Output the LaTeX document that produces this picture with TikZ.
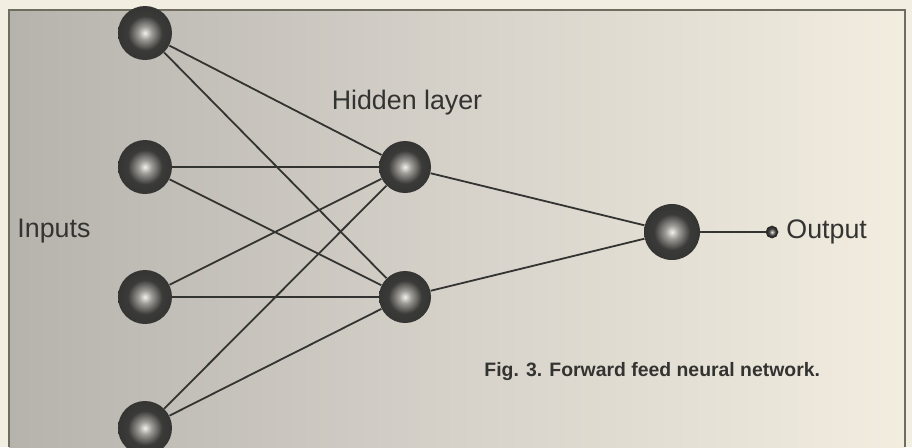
\documentclass[tikz,border=0pt]{standalone}
\usepackage{fontspec}
\setmainfont{Liberation Sans}
\usepackage{tikz}
\usetikzlibrary{arrows,shapes}
\definecolor{paper}{HTML}{F3EEE2}
\definecolor{paperleft}{HTML}{B6B3AD}
\definecolor{papermid}{HTML}{D6D2CA}
\definecolor{paperright}{HTML}{F2EDDF}
\definecolor{ink}{HTML}{333331}
\definecolor{rim}{HTML}{6E6D60}
\definecolor{ballhi}{HTML}{F2F0EA}
\definecolor{ballmid}{HTML}{9E9C97}
\definecolor{balldark}{HTML}{3A3A38}
\definecolor{ballrim}{HTML}{2A2A29}
\pgfdeclareradialshading{neuronball}{\pgfpoint{0bp}{0bp}}{%
  color(0bp)=(ballhi); color(6bp)=(ballmid); color(16bp)=(balldark);
  color(42bp)=(ballrim); color(50bp)=(balldark)}
\tikzstyle{neuron}=[circle,shading=neuronball,minimum size=27pt,inner sep=0pt]
\tikzstyle{edge} = [draw,ink,line width=0.9pt]
\tikzstyle{label} = [text=ink,font=\fontsize{13.4}{16}\selectfont,inner sep=0pt]

\begin{document}
\begin{tikzpicture}[x=0.5pt,y=-0.5pt]
    \useasboundingbox (0,0) rectangle (912,447);
    % Paper and frame
    \fill[paper] (0,0) rectangle (912,447);
    \shade[left color=paperleft,right color=paperright,middle color=papermid]
        (9,10) rectangle (905,447);
    \draw[rim,line width=1pt] (9,447) -- (9,10) -- (905,10) -- (905,447);
    % First we draw the neurons
    \foreach \pos/\name in {{(145,33)/in1}, {(145,167)/in2}, {(145,297)/in3}, {(145,428)/in4}}
        \node[neuron] (\name) at \pos {};
    \foreach \pos/\name in {{(405,167)/hid1}, {(405,297)/hid2}}
        \node[neuron,minimum size=26pt] (\name) at \pos {};
    \node[neuron,minimum size=28pt] (out) at (672,232) {};
    \node[circle,shading=neuronball,draw=ballrim,line width=0.8pt,minimum size=5.5pt,inner sep=0pt] (term) at (772,232) {};
    % Connect neurons with edges
    \foreach \source/ \dest in {in1/hid1, in1/hid2, in2/hid1, in2/hid2, in3/hid1, in3/hid2, in4/hid1, in4/hid2, hid1/out, hid2/out, out/term}
        \path[edge] (\source) -- (\dest) ;
    % Labels
    \node[label,anchor=west] (inputs) at (17,231) {Inputs};
    \node[label] (hidden) at (407,103) {Hidden layer};
    \node[label,anchor=west] (output) at (786,232) {Output};
    \node[text=ink,anchor=west,inner sep=0pt,font=\fontsize{9.7}{12}\selectfont\bfseries] (caption) at (484,372) {Fig. 3. Forward feed neural network.};
\end{tikzpicture}
\end{document}
